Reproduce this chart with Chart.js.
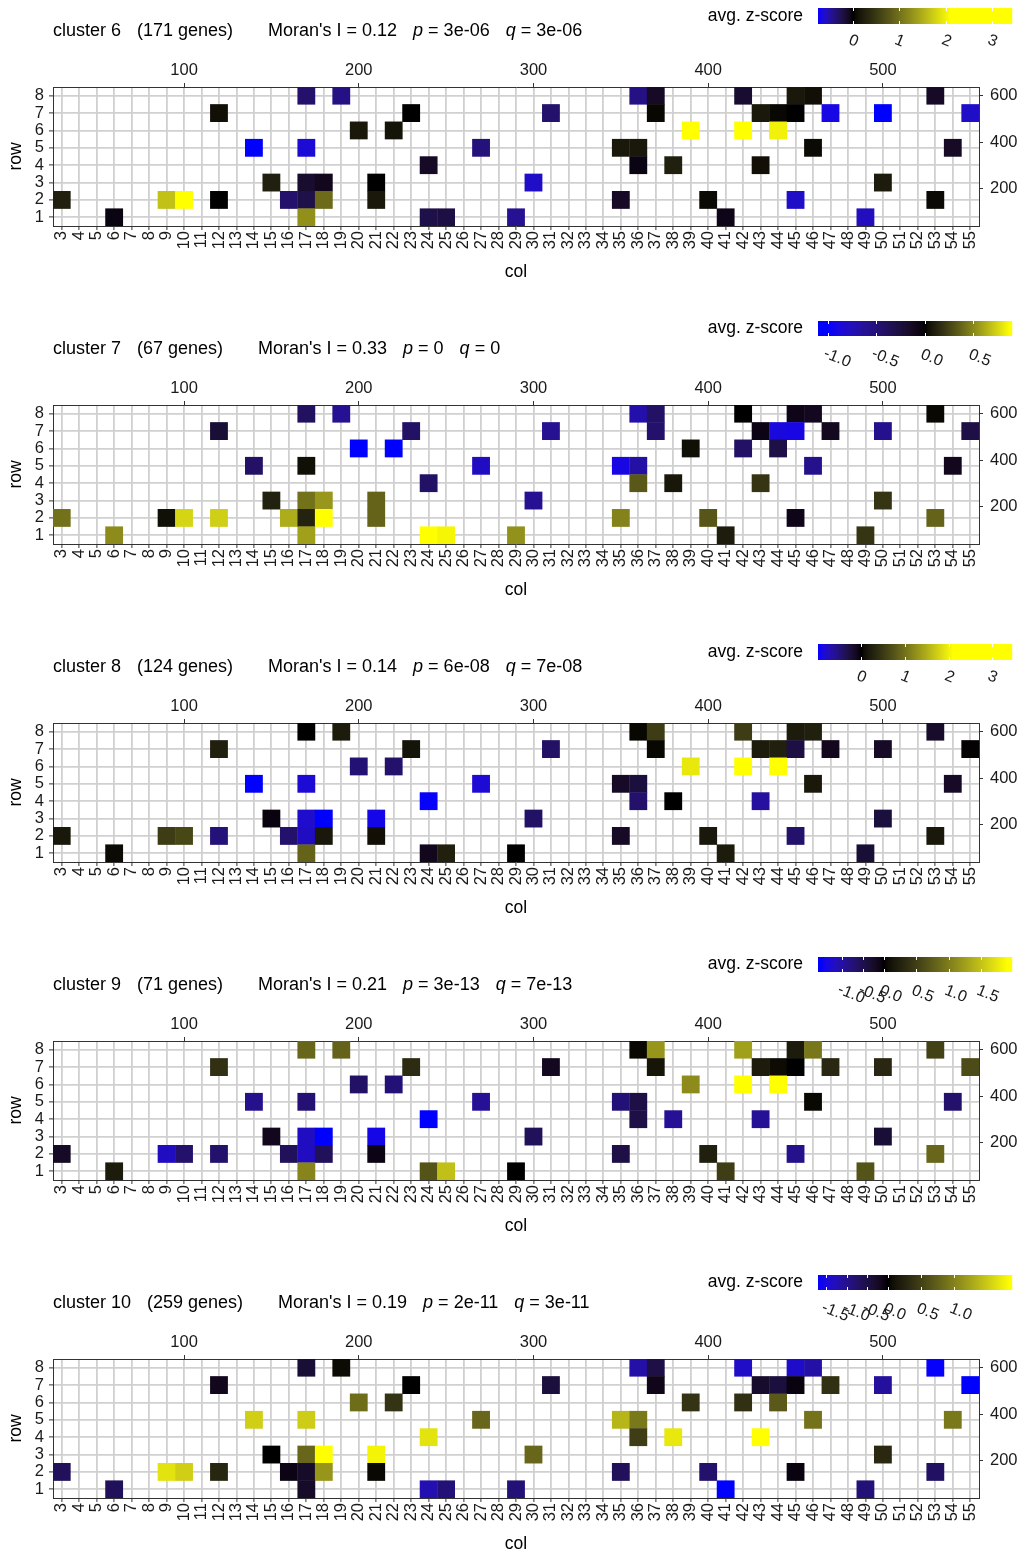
<!DOCTYPE html>
<html><head><meta charset="utf-8">
<script src="https://cdn.jsdelivr.net/npm/chart.js@4.4.1/dist/chart.umd.min.js"></script>
<style>
html,body{margin:0;padding:0;background:#fff;overflow:hidden;}
#wrap{position:relative;width:1026px;height:1551px;overflow:hidden;background:#fff;}
canvas{position:absolute;left:0;}
</style></head><body><div id="wrap"></div>
<script>
// ---------- data ----------
const colTicks = [3,4,5,6,7,8,9,10,11,12,13,14,15,16,17,18,19,20,21,22,23,24,25,26,27,28,29,30,31,32,33,34,35,36,37,38,39,40,41,42,43,44,45,46,47,48,49,50,51,52,53,54,55];
const rowTicks = [1,2,3,4,5,6,7,8];
const topTicks = [100,200,300,400,500];
const rightTicks = [200,400,600];

const spotCols = [17,19,36,37,42,45,46,53,
  12,23,31,37,43,44,45,47,50,55,
  20,22,39,42,44,
  14,17,27,35,36,46,54,
  24,36,38,43,
  15,17,18,21,30,50,
  3,9,10,12,16,17,18,21,35,40,45,53,
  6,17,24,25,29,41,49];
const spotRows = [8,8,8,8,8,8,8,8,
  7,7,7,7,7,7,7,7,7,7,
  6,6,6,6,6,
  5,5,5,5,5,5,5,
  4,4,4,4,
  3,3,3,3,3,3,
  2,2,2,2,2,2,2,2,2,2,2,2,
  1,1,1,1,1,1,1];

const clusterIds = [6,7,8,9,10];
const geneCounts = [171,67,124,71,259];
const moranI = ['0.12','0.33','0.14','0.21','0.19'];
const pValues = ['3e-06','0','6e-08','3e-13','2e-11'];
const qValues = ['3e-06','0','7e-08','7e-13','3e-11'];

const zCluster6 = [-0.34,-0.41,-0.41,-0.11,-0.15,0.17,0.10,-0.11,
  0.10,0.00,-0.34,0.04,0.17,0.04,0.00,-0.68,-0.75,-0.60,
  0.17,0.13,3.40,2.90,2.00,
  -0.75,-0.64,-0.38,0.17,0.17,0.06,-0.11,
  -0.11,-0.04,0.25,0.10,
  0.25,-0.14,-0.08,0.00,-0.60,0.21,
  0.25,1.64,2.20,0.00,-0.34,-0.23,0.95,0.17,-0.11,0.06,-0.60,0.06,
  -0.04,1.26,-0.23,-0.21,-0.45,-0.06,-0.58];
const zCluster7 = [-0.40,-0.60,-0.70,-0.42,0.00,-0.08,-0.12,0.02,
  -0.22,-0.42,-0.60,-0.45,-0.06,-0.88,-0.90,-0.12,-0.58,-0.30,
  -1.05,-1.10,0.04,-0.42,-0.30,
  -0.42,0.04,-0.78,-0.90,-0.68,-0.58,-0.10,
  -0.42,0.33,0.07,0.19,
  0.11,0.42,0.55,0.37,-0.60,0.19,
  0.42,0.04,0.75,0.73,0.62,0.12,0.90,0.37,0.48,0.32,-0.08,0.37,
  0.51,0.58,0.92,0.85,0.53,0.09,0.19];
const zCluster8 = [0.00,0.21,0.04,0.53,0.53,0.21,0.25,-0.17,
  0.25,0.13,-0.40,0.04,0.21,0.25,-0.27,-0.10,-0.14,0.02,
  -0.46,-0.43,1.93,2.80,3.40,
  -0.95,-0.81,-0.81,-0.14,-0.24,0.17,-0.14,
  -0.93,-0.43,0.00,-0.62,
  -0.04,-0.78,-0.95,-0.87,-0.40,-0.24,
  0.17,0.53,0.63,-0.48,-0.43,-0.74,0.17,0.10,-0.14,0.17,-0.43,0.17,
  0.06,0.88,-0.10,0.25,0.00,0.21,-0.21];
const zCluster9 = [0.82,0.80,0.04,1.18,1.25,0.19,0.95,0.53,
  0.38,0.34,-0.18,0.13,0.19,0.06,0.00,0.30,0.30,0.61,
  -0.63,-0.75,1.10,1.90,1.95,
  -0.87,-0.72,-0.93,-0.75,-0.45,0.04,-0.68,
  -1.50,-0.45,-0.93,-0.93,
  -0.15,-1.17,-1.55,-1.38,-0.57,-0.33,
  -0.23,-1.17,-0.68,-0.68,-0.57,-1.17,-0.57,-0.09,-0.45,0.23,-0.87,0.82,
  0.19,1.05,0.67,1.48,0.00,0.49,0.67];
const zCluster10 = [-0.37,0.06,-1.16,-0.51,-1.36,-1.39,-1.16,-1.67,
  -0.17,0.00,-0.43,-0.14,-0.31,-0.43,-0.07,0.37,-1.10,-1.70,
  0.85,0.39,0.39,0.37,0.70,
  1.54,1.52,0.80,1.37,0.93,0.89,0.93,
  1.67,0.48,1.70,1.88,
  0.00,0.80,1.85,1.78,0.80,0.30,
  -0.65,1.67,1.54,0.28,-0.10,-0.27,1.15,0.04,-0.65,-0.77,-0.07,-0.71,
  -0.65,-0.27,-1.22,-0.85,-0.85,-1.70,-0.85];
const zValues = [zCluster6, zCluster7, zCluster8, zCluster9, zCluster10];

const legendTicks6 = [0,1,2,3];
const legendTicks7 = [-1.0,-0.5,0.0,0.5];
const legendTicks8 = [0,1,2,3];
const legendTicks9 = [-1.0,-0.5,0.0,0.5,1.0,1.5];
const legendTicks10 = [-1.5,-1.0,-0.5,0.0,0.5,1.0];
const legendTicks = [legendTicks6, legendTicks7, legendTicks8, legendTicks9, legendTicks10];
const legendDecimals = [0,1,0,1,1];

// colour scale settings per panel
const satLow  = [-0.75,-1.0,-0.95,-1.5,-1.7];
const satHigh = [2.1,0.88,2.1,1.9,1.85];
const legLo   = [-0.75,-1.1,-0.95,-1.57,-1.7];
const legHi   = [3.42,0.9,3.45,1.97,1.88];
const legZero = [0.18,0.552,0.222,0.34,0.36];
const barTop  = [8,3,8,3,3];
const barH    = [16,15,16,15,15];
const legTitleY = [15.7,9.7,15.7,9.7,9.7];
const legLabelY = [41,40,41,40,40];

// ---------- colour helpers (Lab interpolation) ----------
function srgb2lin(c){c/=255;return c<=0.04045?c/12.92:Math.pow((c+0.055)/1.055,2.4);}
function lin2srgb(c){c=c<=0.0031308?12.92*c:1.055*Math.pow(c,1/2.4)-0.055;return Math.max(0,Math.min(255,Math.round(c*255)));}
function rgb2lab(r,g,b){
  const R=srgb2lin(r),G=srgb2lin(g),B=srgb2lin(b);
  let X=(0.4124*R+0.3576*G+0.1805*B)/0.95047, Y=(0.2126*R+0.7152*G+0.0722*B), Z=(0.0193*R+0.1192*G+0.9505*B)/1.08883;
  const f=t=>t>0.008856?Math.cbrt(t):(7.787*t+16/116);
  const fx=f(X),fy=f(Y),fz=f(Z);
  return [116*fy-16,500*(fx-fy),200*(fy-fz)];
}
function lab2rgb(L,a,b){
  const fy=(L+16)/116, fx=fy+a/500, fz=fy-b/200;
  const fi=t=>t>0.206893?t*t*t:(t-16/116)/7.787;
  const X=fi(fx)*0.95047, Y=fi(fy), Z=fi(fz)*1.08883;
  const R=3.2406*X-1.5372*Y-0.4986*Z, G=-0.9689*X+1.8758*Y+0.0415*Z, B=0.0557*X-0.2040*Y+1.0570*Z;
  return 'rgb('+lin2srgb(R)+','+lin2srgb(G)+','+lin2srgb(B)+')';
}
const BLUE = rgb2lab(0,0,255), YELLOW = rgb2lab(255,255,0);
function colorFor(v,i){
  let s, base;
  if (v>=0){ s=Math.min(v/satHigh[i],1); base=YELLOW; }
  else { s=Math.min(v/satLow[i],1); base=BLUE; }
  return lab2rgb(base[0]*s, base[1]*s, base[2]*s);
}

// ---------- drawing ----------
const FONT = '"Liberation Sans", Arial, Helvetica, sans-serif';
const TXT = '#1a1a1a';

function drawDecor(chart, i){
  const ctx = chart.ctx;
  ctx.save();
  // title line
  ctx.fillStyle = '#000';
  ctx.textBaseline = 'middle';
  ctx.textAlign = 'left';
  const segs = [
    {t:'cluster '+clusterIds[i], gap:16},
    {t:'('+geneCounts[i]+' genes)', gap:35},
    {t:"Moran's I = "+moranI[i], gap:16},
    {t:'p', it:true}, {t:' = '+pValues[i], gap:16},
    {t:'q', it:true}, {t:' = '+qValues[i]}
  ];
  let x = 53;
  for (const s of segs){
    ctx.font = (s.it?'italic ':'')+'18px '+FONT;
    ctx.fillText(s.t, x, 31);
    x += ctx.measureText(s.t).width + (s.gap||0);
  }
  // legend
  ctx.font = '17.5px '+FONT;
  ctx.textAlign = 'right';
  ctx.fillText('avg. z-score', 803, legTitleY[i]);
  const bx = 818, bw = 194, bt = barTop[i], bh = barH[i];
  const z = legZero[i], lo = legLo[i], hi = legHi[i];
  for (let p=0;p<bw;p++){
    const t=(p+0.5)/bw;
    const v = t<z ? lo*(z-t)/z : hi*(t-z)/(1-z);
    ctx.fillStyle = colorFor(v,i);
    ctx.fillRect(bx+p, bt, 1.2, bh);
  }
  ctx.strokeStyle = '#fff';
  ctx.lineWidth = 1;
  ctx.font = '16px '+FONT;
  ctx.fillStyle = TXT;
  const ang = 22*Math.PI/180;
  for (const v of legendTicks[i]){
    const t = v<0 ? z - z*(v/lo) : z + (1-z)*(v/hi);
    const px = Math.round(bx + t*bw)+0.5;
    ctx.beginPath();
    ctx.moveTo(px, bt); ctx.lineTo(px, bt+3);
    ctx.moveTo(px, bt+bh-3); ctx.lineTo(px, bt+bh);
    ctx.stroke();
    const label = v.toFixed(legendDecimals[i]);
    const w = ctx.measureText(label).width;
    ctx.save();
    ctx.translate(px - 4 + (w/2)*Math.cos(ang), legLabelY[i]);
    ctx.rotate(ang);
    ctx.textAlign = 'center';
    ctx.textBaseline = 'middle';
    ctx.fillText(label, 0, 0);
    ctx.restore();
  }
  ctx.restore();
}

const wrap = document.getElementById('wrap');
const tickFont = {family: FONT, size: 16.5};
const titleFont = {family: FONT, size: 17.5};
const gridMain = {color:'#d0d0d0', lineWidth:1.8, tickColor:'#333', tickLength:4, tickWidth:1};
const gridSide = {drawOnChartArea:false, color:'#333', tickColor:'#333', tickLength:4, tickWidth:1};
const border = {display:true, color:'#333', width:1};

for (let i=0;i<5;i++){
  const cv = document.createElement('canvas');
  cv.width = 1026; cv.height = 318;
  cv.style.top = (i*318)+'px';
  cv.style.width = '1026px'; cv.style.height = '318px';
  wrap.appendChild(cv);
  const pts = spotCols.map((c,k)=>({x:c, y:spotRows[k], v:zValues[i][k]}));
  const cellR = ctx => { const s=ctx.chart.scales.x; return (s.getPixelForValue(1)-s.getPixelForValue(0))/Math.SQRT2 + 0.25; };
  new Chart(cv, {
    type:'scatter',
    data:{datasets:[{
      data:pts,
      pointStyle:'rect',
      pointRadius: cellR,
      pointHoverRadius: cellR,
      pointBorderWidth:0,
      pointHoverBorderWidth:0,
      pointBackgroundColor: ctx => colorFor(ctx.raw.v, i),
      pointHoverBackgroundColor: ctx => colorFor(ctx.raw.v, i)
    }]},
    options:{
      responsive:false, animation:false, events:[],
      devicePixelRatio:1,
      layout:{padding:{left:0,right:0,top:0,bottom:36}},
      plugins:{legend:{display:false}, tooltip:{enabled:false}},
      scales:{
        x:{type:'linear', position:'bottom', min:2.5, max:55.5,
          afterBuildTicks: s => { s.ticks = colTicks.map(v=>({value:v})); },
          afterFit: s => { s.height = 56; },
          ticks:{autoSkip:false, minRotation:90, maxRotation:90, padding:1, color:TXT, font:tickFont, callback:v=>String(v)},
          grid:gridMain, border:border,
          title:{display:true, text:'col', color:'#000', font:titleFont, padding:{top:0,bottom:-1}}
        },
        y:{type:'linear', position:'left', min:0.5, max:8.5,
          afterBuildTicks: s => { s.ticks = rowTicks.map(v=>({value:v})); },
          afterFit: s => { s.width = 53; },
          ticks:{autoSkip:false, padding:5, color:TXT, font:tickFont, callback:v=>String(v)},
          grid:gridMain, border:border,
          title:{display:true, text:'row', color:'#000', font:titleFont, padding:{top:6,bottom:0}}
        },
        xTop:{type:'linear', position:'top', min:25, max:555,
          afterBuildTicks: s => { s.ticks = topTicks.map(v=>({value:v})); },
          afterFit: s => { s.height = 87; },
          ticks:{autoSkip:false, maxRotation:0, minRotation:0, padding:3, color:TXT, font:tickFont, callback:v=>String(v)},
          grid:gridSide, border:border
        },
        yRight:{type:'linear', position:'right', min:37.5, max:637.5,
          afterBuildTicks: s => { s.ticks = rightTicks.map(v=>({value:v})); },
          afterFit: s => { s.width = 47; },
          ticks:{autoSkip:false, padding:7, color:TXT, font:tickFont, callback:v=>String(v)},
          grid:gridSide, border:border
        }
      }
    },
    plugins:[{id:'decor', afterDraw: c => drawDecor(c, i)}]
  });
}
</script>
</body></html>
